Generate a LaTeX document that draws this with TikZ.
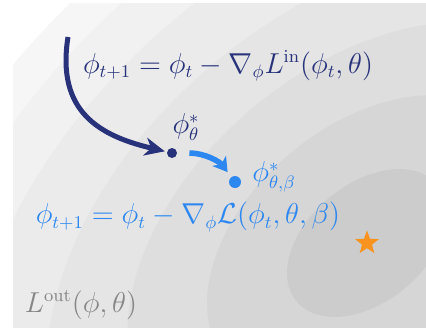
\documentclass[tikz,border=0pt]{standalone}
\usepackage{amsmath}
\usetikzlibrary{arrows.meta,shapes.geometric}

\definecolor{innerblue}{RGB}{40,50,122}
\definecolor{outerblue}{RGB}{45,135,240}
\definecolor{lossgray}{RGB}{135,135,135}
\definecolor{optorange}{RGB}{247,147,30}

\tikzset{
  formel/.style={font=\fontsize{13.4}{16}\selectfont, inner sep=0pt},
  punkt/.style={circle, fill, inner sep=0pt, minimum size=#1},
  ring/.style={rotate around={39.5:(367,243)}}
}

\begin{document}
\begin{tikzpicture}[x=0.5pt, y=-0.5pt]
		\useasboundingbox (0,0) rectangle (426,329);

		%Hoehenlinien vom Verlust
		\begin{scope}
		\clip (13,3) rectangle (426,327);
		\fill[white] (13,3) rectangle (426,327);
		\fill[ring, color={rgb,255:red,246;green,246;blue,246}] (367,243) ellipse [x radius=585, y radius=377];
		\fill[ring, color={rgb,255:red,241;green,241;blue,241}] (367,243) ellipse [x radius=530, y radius=342];
		\fill[ring, color={rgb,255:red,235;green,235;blue,235}] (367,243) ellipse [x radius=457, y radius=295];
		\fill[ring, color={rgb,255:red,229;green,229;blue,229}] (367,243) ellipse [x radius=366, y radius=236];
		\fill[ring, color={rgb,255:red,222;green,222;blue,222}] (367,243) ellipse [x radius=274, y radius=177];
		\fill[ring, color={rgb,255:red,214;green,214;blue,214}] (367,243) ellipse [x radius=183, y radius=118];
		\fill[ring, color={rgb,255:red,204;green,204;blue,204}] (367,243) ellipse [x radius=91.5, y radius=59];
		\end{scope}

		%Punkte und Optimum
		\node[punkt=10pt*0.5, innerblue] (phistar) at (172,153) {};
		\node[punkt=12pt*0.5, outerblue] (phibeta) at (235,182) {};
		\node[star, star points=5, star point ratio=2.4, fill=optorange, inner sep=0pt, minimum size=12.5pt] (optimum) at (367,243) {};

		%Beschriftungen
		\node[formel, innerblue] (innerrule) at (228,66) {$\phi_{t+1} = \phi_t - \nabla_{\phi} L^{\mathrm{in}}(\phi_t,\theta)$};
		\node[formel, innerblue] (phistarlabel) at (186,127) {$\phi^*_{\theta}$};
		\node[formel, outerblue] (phibetalabel) at (274,177) {$\phi^*_{\theta,\beta}$};
		\node[formel, outerblue] (outerrule) at (188,217) {$\phi_{t+1} = \phi_t - \nabla_{\phi} \mathcal{L}(\phi_t,\theta,\beta)$};
		\node[formel, lossgray] (losslabel) at (81,305) {$L^{\mathrm{out}}(\phi,\theta)$};

		%Pfeile
		\coordinate (start) at (68,37);
		\draw[innerblue, line width=2.5pt, -{Stealth[length=10pt, width=9pt, inset=3pt]}, shorten >=1pt]
			(start) .. controls (56,112) and (100,136) .. (phistar);
		\draw[outerblue, line width=2.8pt, -{Stealth[length=7pt, width=8.5pt, inset=2pt]}, shorten <=6pt, shorten >=3pt]
			(phistar) .. controls (205,153) and (220,162) .. (phibeta);
\end{tikzpicture}
\end{document}
